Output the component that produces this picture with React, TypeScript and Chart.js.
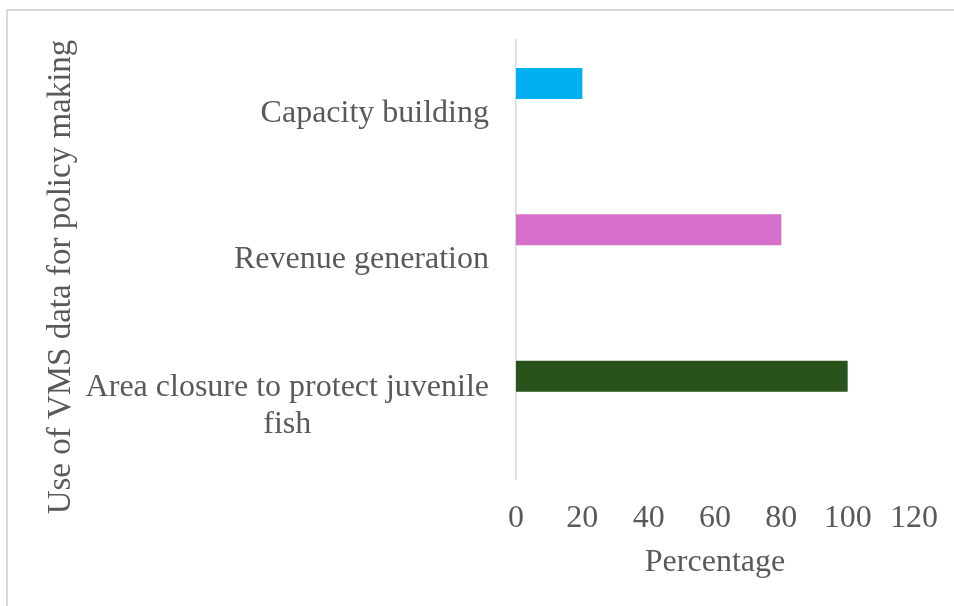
import React, { useEffect, useRef } from "react";
import { Chart, registerables } from "chart.js";

Chart.register(...registerables);

const categories: (string | string[])[] = [
  "Capacity building",
  "Revenue generation",
  ["Area closure to protect juvenile", "fish"],
];
const percentages: number[] = [20, 80, 100];
const barColors: string[] = ["#00B0F0", "#D66FCA", "#29531A"];
const emptySeries: (number | null)[] = [null, null, null];
const xTickValues: number[] = [0, 20, 40, 60, 80, 100, 120];
const xTitle = "Percentage";
const yTitle = "Use of VMS data for policy making";

const FONT = "'Liberation Serif', 'Times New Roman', serif";
const TEXT = "#595959";

const framePlugin = {
  id: "frame",
  beforeDraw(chart: any) {
    const ctx = chart.ctx;
    ctx.save();
    ctx.strokeStyle = "#D9D9D9";
    ctx.lineWidth = 2;
    ctx.beginPath();
    ctx.moveTo(7, 606);
    ctx.lineTo(7, 10);
    ctx.lineTo(954, 10);
    ctx.stroke();
    ctx.restore();

    // Center the lines of multi-line category labels within their block (Excel style)
    const s = chart.scales.y;
    const items = s._labelItems || (s._labelItems = s._computeLabelItems(chart.chartArea));
    ctx.save();
    for (const item of items) {
      if (Array.isArray(item.label) && item.options.textAlign === "right") {
        ctx.font = item.font.string;
        let w = 0;
        for (const line of item.label) w = Math.max(w, ctx.measureText(line).width);
        item.options.textAlign = "center";
        item.options.translation = [item.options.translation[0] - w / 2, item.options.translation[1]];
      }
    }
    ctx.restore();
  },
  afterDraw(chart: any) {
    const ctx = chart.ctx;
    ctx.save();
    ctx.fillStyle = TEXT;
    ctx.font = `33px ${FONT}`;
    ctx.textAlign = "center";
    ctx.textBaseline = "middle";
    ctx.translate(61, 277);
    ctx.rotate(-Math.PI / 2);
    ctx.fillText(yTitle, 0, 0);
    ctx.restore();
  },
};

export default function App() {
  const ref = useRef<HTMLCanvasElement>(null);
  useEffect(() => {
    document.body.style.margin = "0";
    const chart = new Chart(ref.current!, {
      type: "bar",
      data: {
        labels: categories,
        datasets: [
          {
            data: percentages,
            backgroundColor: barColors,
            borderWidth: 0,
            categoryPercentage: 0.8107,
            barPercentage: 0.523,
          } as any,
          {
            data: emptySeries,
            categoryPercentage: 0.8107,
            barPercentage: 0.523,
          } as any,
        ],
      },
      options: {
        indexAxis: "y",
        animation: false,
        responsive: false,
        devicePixelRatio: 1,
        layout: { padding: { top: 40, right: 40, left: 0, bottom: 0 } },
        plugins: {
          legend: { display: false },
          tooltip: { enabled: false },
        },
        scales: {
          x: {
            type: "linear",
            min: 0,
            max: 120,
            afterBuildTicks: (scale: any) => {
              scale.ticks = xTickValues.map((v) => ({ value: v }));
            },
            afterFit: (scale: any) => {
              scale.height = 127;
              scale.paddingLeft = 0;
              scale.paddingRight = 0;
              scale.paddingTop = 0;
              scale.paddingBottom = 0;
            },
            grid: { display: false, drawTicks: false },
            border: { display: false },
            ticks: {
              color: TEXT,
              font: { family: FONT, size: 32 },
              padding: 20,
              maxRotation: 0,
            },
            title: {
              display: true,
              text: xTitle,
              color: TEXT,
              font: { family: FONT, size: 32 },
              padding: { top: 0, bottom: 24 },
            },
          },
          y: {
            type: "category",
            afterFit: (scale: any) => {
              scale.width = 516;
              scale.paddingLeft = 0;
              scale.paddingRight = 0;
              scale.paddingTop = 0;
              scale.paddingBottom = 0;
            },
            grid: { display: false, drawTicks: false },
            border: { display: true, color: "#D9D9D9", width: 1.5 },
            ticks: {
              color: TEXT,
              font: { family: FONT, size: 32, lineHeight: 1.17 },
              padding: 27,
            },
          },
        },
      },
      plugins: [framePlugin],
    });
    return () => chart.destroy();
  }, []);
  return (
    <div style={{ position: "absolute", left: 0, top: 0, width: 954, height: 606 }}>
      <canvas ref={ref} width={954} height={606} />
    </div>
  );
}
